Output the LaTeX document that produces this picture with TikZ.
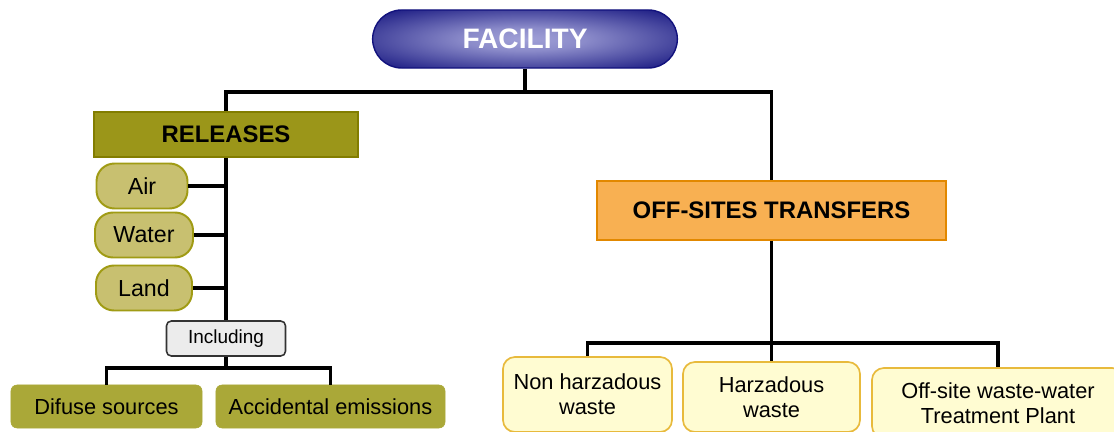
\documentclass[tikz,border=0pt]{standalone}
\usepackage{fontspec}
\setmainfont{Liberation Sans}
\usetikzlibrary{
    shapes.misc, positioning, calc
}
\definecolor{facnavy}{RGB}{18,18,125}
\definecolor{faclight}{RGB}{160,160,215}
\definecolor{relfill}{RGB}{155,150,25}
\definecolor{relline}{RGB}{130,125,0}
\definecolor{medfill}{RGB}{200,192,112}
\definecolor{medline}{RGB}{160,155,20}
\definecolor{subfill}{RGB}{170,168,56}
\definecolor{offfill}{RGB}{248,176,82}
\definecolor{offline}{RGB}{226,136,0}
\definecolor{dstfill}{RGB}{255,252,210}
\definecolor{dstline}{RGB}{232,186,60}
\definecolor{incfill}{RGB}{236,236,236}
\pgfdeclareradialshading{facglow}{\pgfpoint{0bp}{0bp}}{%
  color(0bp)=(faclight); color(10bp)=(faclight!85!facnavy);
  color(36bp)=(facnavy); color(50bp)=(facnavy)}
\tikzset{
  blk/.style={rectangle, draw, align=center, inner sep=0pt},
  facbox/.style={rounded rectangle, draw=facnavy, line width=1pt,
                 shade, shading=facglow, text=white,
                 minimum width=7.85cm, minimum height=1.45cm,
                 font=\fontsize{20}{24}\selectfont\bfseries},
  relhd/.style={blk, fill=relfill, draw=relline, line width=1.4pt,
                minimum width=6.6cm, minimum height=1.125cm,
                font=\fontsize{17}{20}\selectfont\bfseries},
  medium/.style={blk, fill=medfill, draw=medline, line width=1.4pt,
                 rounded corners=0.45cm, minimum height=1.125cm,
                 font=\fontsize{16.5}{20}\selectfont},
  incl/.style={blk, fill=incfill, draw=black!80, line width=1.1pt,
               rounded corners=0.12cm, minimum width=2.975cm,
               minimum height=0.875cm, font=\fontsize{13.5}{16}\selectfont},
  subrel/.style={blk, fill=subfill, draw=subfill, rounded corners=0.15cm,
                 minimum height=1.075cm, font=\fontsize{15.5}{18}\selectfont},
  offhd/.style={blk, fill=offfill, draw=offline, line width=1.4pt,
                minimum width=8.725cm, minimum height=1.475cm,
                font=\fontsize{17}{20}\selectfont\bfseries},
  dest/.style={blk, fill=dstfill, draw=dstline, line width=1.2pt,
               rounded corners=0.3cm,
               font=\fontsize{15.5}{18}\selectfont},
  link/.style={line width=2.8pt},
  medlink/.style={line width=2.2pt},
}
\begin{document}
\begin{tikzpicture}[x=0.025cm, y=0.025cm]
  \clip (0,0) rectangle (1114,-432);

  \node[facbox] (fac) at (525,-39) {FACILITY};

  % releases side
  \node[relhd] (rel) at (226,-134.5) {RELEASES};
  \node[medium, minimum width=2.275cm] (air)   at (142,-186) {Air};
  \node[medium, minimum width=2.45cm]  (water) at (144,-235) {Water};
  \node[medium, minimum width=2.4cm]   (land)  at (144,-288) {Land};
  \node[incl] (inc) at (226,-338.5) {Including};
  \node[subrel, minimum width=4.775cm] (dif) at (106.5,-406.5) {Difuse sources};
  \node[subrel, minimum width=5.725cm] (acc) at (330.5,-406.5) {Accidental emissions};

  % transfers side
  \node[offhd] (off) at (771.5,-210.5) {OFF-SITES TRANSFERS};
  \node[dest, minimum width=4.225cm, minimum height=1.875cm] (nonhaz)
    at (587.5,-394.5) {Non harzadous\\waste};
  \node[dest, minimum width=4.425cm, minimum height=1.75cm] (haz)
    at (771.5,-397) {Harzadous\\waste};
  \node[dest, minimum width=6.3cm, minimum height=1.75cm] (wwtp)
    at (998,-403) {Off-site waste-water\\Treatment Plant};

  \coordinate (bus1) at (0,-92);
  \coordinate (bus2) at (0,-368);
  \coordinate (bus3) at (0,-343);

  \draw[link] (fac.south) -- (fac.south |- bus1) -| (rel.north);
  \draw[link] (fac.south |- bus1) -| (off.north);
  \draw[link] (rel.south) -- (inc.north);
  \foreach \m in {air, water, land}
    \draw[medlink] (\m.east) -- (\m.east -| rel.south);

  \draw[link] (inc.south) -- (inc.south |- bus2) -| (dif.north);
  \draw[link] (inc.south |- bus2) -| (acc.north);

  \draw[link] (off.south) -- (haz.north);
  \draw[link] (off.south |- bus3) -| (nonhaz.north);
  \draw[link] (off.south |- bus3) -| (wwtp.north);

\end{tikzpicture}
\end{document}
